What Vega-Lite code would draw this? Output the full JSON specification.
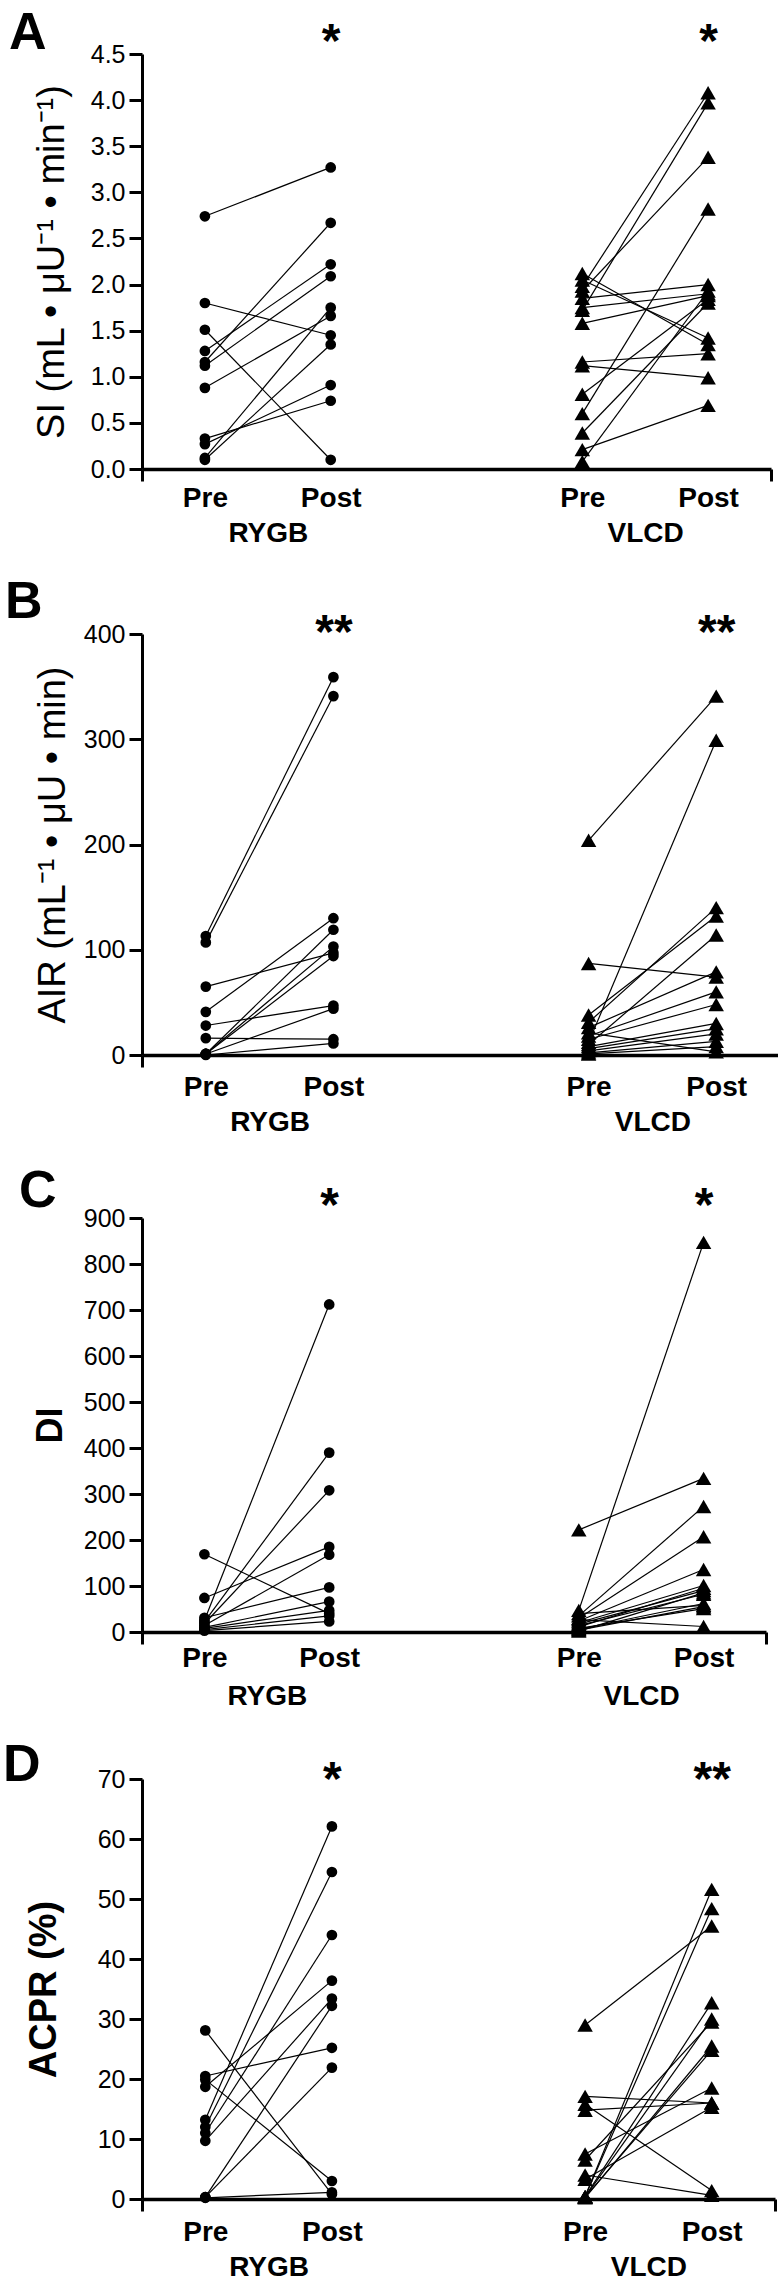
{
 "$schema": "https://vega.github.io/schema/vega-lite/v6.json",
 "background": "white",
 "padding": {"left": 3, "top": 7, "right": 0, "bottom": 0},
 "config": {
  "font": "Liberation Sans",
  "view": {"stroke": null},
  "axis": {"grid": false, "domainColor": "black", "tickColor": "black", "labelColor": "black", "titleColor": "black", "labelFont": "Liberation Sans", "titleFont": "Liberation Sans"},
  "axisY": {"domainWidth": 3, "tickWidth": 3, "tickSize": 13, "labelFontSize": 25, "labelPadding": 4, "titleFontSize": 38, "labelOverlap": false, "labelFlush": false},
  "title": {"font": "Liberation Sans", "fontSize": 52, "fontWeight": "bold", "color": "black", "anchor": "start", "frame": "group"}
 },
 "datasets": {
  "d": [
   {"p":"A","id":1,"g":"RYGB","cond":"RYGB Pre","v":2.74},{"p":"A","id":1,"g":"RYGB","cond":"RYGB Post","v":3.27},
   {"p":"A","id":2,"g":"RYGB","cond":"RYGB Pre","v":1.80},{"p":"A","id":2,"g":"RYGB","cond":"RYGB Post","v":1.45},
   {"p":"A","id":3,"g":"RYGB","cond":"RYGB Pre","v":1.51},{"p":"A","id":3,"g":"RYGB","cond":"RYGB Post","v":0.10},
   {"p":"A","id":4,"g":"RYGB","cond":"RYGB Pre","v":0.88},{"p":"A","id":4,"g":"RYGB","cond":"RYGB Post","v":1.66},
   {"p":"A","id":5,"g":"RYGB","cond":"RYGB Pre","v":1.28},{"p":"A","id":5,"g":"RYGB","cond":"RYGB Post","v":2.22},
   {"p":"A","id":6,"g":"RYGB","cond":"RYGB Pre","v":1.16},{"p":"A","id":6,"g":"RYGB","cond":"RYGB Post","v":2.67},
   {"p":"A","id":7,"g":"RYGB","cond":"RYGB Pre","v":1.12},{"p":"A","id":7,"g":"RYGB","cond":"RYGB Post","v":2.09},
   {"p":"A","id":8,"g":"RYGB","cond":"RYGB Pre","v":0.33},{"p":"A","id":8,"g":"RYGB","cond":"RYGB Post","v":0.74},
   {"p":"A","id":9,"g":"RYGB","cond":"RYGB Pre","v":0.27},{"p":"A","id":9,"g":"RYGB","cond":"RYGB Post","v":0.91},
   {"p":"A","id":10,"g":"RYGB","cond":"RYGB Pre","v":0.12},{"p":"A","id":10,"g":"RYGB","cond":"RYGB Post","v":1.75},
   {"p":"A","id":11,"g":"RYGB","cond":"RYGB Pre","v":0.10},{"p":"A","id":11,"g":"RYGB","cond":"RYGB Post","v":1.35},
   {"p":"A","id":12,"g":"VLCD","cond":"VLCD Pre","v":2.12},{"p":"A","id":12,"g":"VLCD","cond":"VLCD Post","v":1.35},
   {"p":"A","id":13,"g":"VLCD","cond":"VLCD Pre","v":2.05},{"p":"A","id":13,"g":"VLCD","cond":"VLCD Post","v":1.42},
   {"p":"A","id":14,"g":"VLCD","cond":"VLCD Pre","v":1.98},{"p":"A","id":14,"g":"VLCD","cond":"VLCD Post","v":4.08},
   {"p":"A","id":15,"g":"VLCD","cond":"VLCD Pre","v":1.93},{"p":"A","id":15,"g":"VLCD","cond":"VLCD Post","v":3.38},
   {"p":"A","id":16,"g":"VLCD","cond":"VLCD Pre","v":1.85},{"p":"A","id":16,"g":"VLCD","cond":"VLCD Post","v":2.00},
   {"p":"A","id":17,"g":"VLCD","cond":"VLCD Pre","v":1.75},{"p":"A","id":17,"g":"VLCD","cond":"VLCD Post","v":1.90},
   {"p":"A","id":18,"g":"VLCD","cond":"VLCD Pre","v":1.72},{"p":"A","id":18,"g":"VLCD","cond":"VLCD Post","v":3.97},
   {"p":"A","id":19,"g":"VLCD","cond":"VLCD Pre","v":1.58},{"p":"A","id":19,"g":"VLCD","cond":"VLCD Post","v":1.88},
   {"p":"A","id":20,"g":"VLCD","cond":"VLCD Pre","v":1.16},{"p":"A","id":20,"g":"VLCD","cond":"VLCD Post","v":1.25},
   {"p":"A","id":21,"g":"VLCD","cond":"VLCD Pre","v":1.12},{"p":"A","id":21,"g":"VLCD","cond":"VLCD Post","v":0.99},
   {"p":"A","id":22,"g":"VLCD","cond":"VLCD Pre","v":0.81},{"p":"A","id":22,"g":"VLCD","cond":"VLCD Post","v":1.84},
   {"p":"A","id":23,"g":"VLCD","cond":"VLCD Pre","v":0.60},{"p":"A","id":23,"g":"VLCD","cond":"VLCD Post","v":2.82},
   {"p":"A","id":24,"g":"VLCD","cond":"VLCD Pre","v":0.39},{"p":"A","id":24,"g":"VLCD","cond":"VLCD Post","v":1.80},
   {"p":"A","id":25,"g":"VLCD","cond":"VLCD Pre","v":0.21},{"p":"A","id":25,"g":"VLCD","cond":"VLCD Post","v":0.69},
   {"p":"A","id":26,"g":"VLCD","cond":"VLCD Pre","v":0.08},{"p":"A","id":26,"g":"VLCD","cond":"VLCD Post","v":1.93},

   {"p":"B","id":1,"g":"RYGB","cond":"RYGB Pre","v":113},{"p":"B","id":1,"g":"RYGB","cond":"RYGB Post","v":359},
   {"p":"B","id":2,"g":"RYGB","cond":"RYGB Pre","v":107},{"p":"B","id":2,"g":"RYGB","cond":"RYGB Post","v":341},
   {"p":"B","id":3,"g":"RYGB","cond":"RYGB Pre","v":65},{"p":"B","id":3,"g":"RYGB","cond":"RYGB Post","v":97},
   {"p":"B","id":4,"g":"RYGB","cond":"RYGB Pre","v":41},{"p":"B","id":4,"g":"RYGB","cond":"RYGB Post","v":130},
   {"p":"B","id":5,"g":"RYGB","cond":"RYGB Pre","v":28},{"p":"B","id":5,"g":"RYGB","cond":"RYGB Post","v":47},
   {"p":"B","id":6,"g":"RYGB","cond":"RYGB Pre","v":16},{"p":"B","id":6,"g":"RYGB","cond":"RYGB Post","v":15},
   {"p":"B","id":7,"g":"RYGB","cond":"RYGB Pre","v":1},{"p":"B","id":7,"g":"RYGB","cond":"RYGB Post","v":119},
   {"p":"B","id":8,"g":"RYGB","cond":"RYGB Pre","v":1},{"p":"B","id":8,"g":"RYGB","cond":"RYGB Post","v":103},
   {"p":"B","id":9,"g":"RYGB","cond":"RYGB Pre","v":1},{"p":"B","id":9,"g":"RYGB","cond":"RYGB Post","v":94},
   {"p":"B","id":10,"g":"RYGB","cond":"RYGB Pre","v":1},{"p":"B","id":10,"g":"RYGB","cond":"RYGB Post","v":44},
   {"p":"B","id":11,"g":"RYGB","cond":"RYGB Pre","v":0},{"p":"B","id":11,"g":"RYGB","cond":"RYGB Post","v":11},
   {"p":"B","id":12,"g":"VLCD","cond":"VLCD Pre","v":204},{"p":"B","id":12,"g":"VLCD","cond":"VLCD Post","v":341},
   {"p":"B","id":13,"g":"VLCD","cond":"VLCD Pre","v":87},{"p":"B","id":13,"g":"VLCD","cond":"VLCD Post","v":74},
   {"p":"B","id":14,"g":"VLCD","cond":"VLCD Pre","v":38},{"p":"B","id":14,"g":"VLCD","cond":"VLCD Post","v":132},
   {"p":"B","id":15,"g":"VLCD","cond":"VLCD Pre","v":31},{"p":"B","id":15,"g":"VLCD","cond":"VLCD Post","v":140},
   {"p":"B","id":16,"g":"VLCD","cond":"VLCD Pre","v":26},{"p":"B","id":16,"g":"VLCD","cond":"VLCD Post","v":79},
   {"p":"B","id":17,"g":"VLCD","cond":"VLCD Pre","v":21},{"p":"B","id":17,"g":"VLCD","cond":"VLCD Post","v":3},
   {"p":"B","id":18,"g":"VLCD","cond":"VLCD Pre","v":18},{"p":"B","id":18,"g":"VLCD","cond":"VLCD Post","v":60},
   {"p":"B","id":19,"g":"VLCD","cond":"VLCD Pre","v":15},{"p":"B","id":19,"g":"VLCD","cond":"VLCD Post","v":48},
   {"p":"B","id":20,"g":"VLCD","cond":"VLCD Pre","v":12},{"p":"B","id":20,"g":"VLCD","cond":"VLCD Post","v":299},
   {"p":"B","id":21,"g":"VLCD","cond":"VLCD Pre","v":10},{"p":"B","id":21,"g":"VLCD","cond":"VLCD Post","v":114},
   {"p":"B","id":22,"g":"VLCD","cond":"VLCD Pre","v":8},{"p":"B","id":22,"g":"VLCD","cond":"VLCD Post","v":30},
   {"p":"B","id":23,"g":"VLCD","cond":"VLCD Pre","v":6},{"p":"B","id":23,"g":"VLCD","cond":"VLCD Post","v":25},
   {"p":"B","id":24,"g":"VLCD","cond":"VLCD Pre","v":4},{"p":"B","id":24,"g":"VLCD","cond":"VLCD Post","v":20},
   {"p":"B","id":25,"g":"VLCD","cond":"VLCD Pre","v":2},{"p":"B","id":25,"g":"VLCD","cond":"VLCD Post","v":13},
   {"p":"B","id":26,"g":"VLCD","cond":"VLCD Pre","v":1},{"p":"B","id":26,"g":"VLCD","cond":"VLCD Post","v":8},

   {"p":"C","id":1,"g":"RYGB","cond":"RYGB Pre","v":169},{"p":"C","id":1,"g":"RYGB","cond":"RYGB Post","v":40},
   {"p":"C","id":2,"g":"RYGB","cond":"RYGB Pre","v":74},{"p":"C","id":2,"g":"RYGB","cond":"RYGB Post","v":185},
   {"p":"C","id":3,"g":"RYGB","cond":"RYGB Pre","v":31},{"p":"C","id":3,"g":"RYGB","cond":"RYGB Post","v":97},
   {"p":"C","id":4,"g":"RYGB","cond":"RYGB Pre","v":25},{"p":"C","id":4,"g":"RYGB","cond":"RYGB Post","v":712},
   {"p":"C","id":5,"g":"RYGB","cond":"RYGB Pre","v":22},{"p":"C","id":5,"g":"RYGB","cond":"RYGB Post","v":390},
   {"p":"C","id":6,"g":"RYGB","cond":"RYGB Pre","v":18},{"p":"C","id":6,"g":"RYGB","cond":"RYGB Post","v":308},
   {"p":"C","id":7,"g":"RYGB","cond":"RYGB Pre","v":14},{"p":"C","id":7,"g":"RYGB","cond":"RYGB Post","v":168},
   {"p":"C","id":8,"g":"RYGB","cond":"RYGB Pre","v":10},{"p":"C","id":8,"g":"RYGB","cond":"RYGB Post","v":66},
   {"p":"C","id":9,"g":"RYGB","cond":"RYGB Pre","v":8},{"p":"C","id":9,"g":"RYGB","cond":"RYGB Post","v":47},
   {"p":"C","id":10,"g":"RYGB","cond":"RYGB Pre","v":5},{"p":"C","id":10,"g":"RYGB","cond":"RYGB Post","v":35},
   {"p":"C","id":11,"g":"RYGB","cond":"RYGB Pre","v":3},{"p":"C","id":11,"g":"RYGB","cond":"RYGB Post","v":23},
   {"p":"C","id":12,"g":"VLCD","cond":"VLCD Pre","v":222},{"p":"C","id":12,"g":"VLCD","cond":"VLCD Post","v":334},
   {"p":"C","id":13,"g":"VLCD","cond":"VLCD Pre","v":47},{"p":"C","id":13,"g":"VLCD","cond":"VLCD Post","v":847},
   {"p":"C","id":14,"g":"VLCD","cond":"VLCD Pre","v":40},{"p":"C","id":14,"g":"VLCD","cond":"VLCD Post","v":58},
   {"p":"C","id":15,"g":"VLCD","cond":"VLCD Pre","v":35},{"p":"C","id":15,"g":"VLCD","cond":"VLCD Post","v":273},
   {"p":"C","id":16,"g":"VLCD","cond":"VLCD Pre","v":30},{"p":"C","id":16,"g":"VLCD","cond":"VLCD Post","v":207},
   {"p":"C","id":17,"g":"VLCD","cond":"VLCD Pre","v":27},{"p":"C","id":17,"g":"VLCD","cond":"VLCD Post","v":12},
   {"p":"C","id":18,"g":"VLCD","cond":"VLCD Pre","v":24},{"p":"C","id":18,"g":"VLCD","cond":"VLCD Post","v":136},
   {"p":"C","id":19,"g":"VLCD","cond":"VLCD Pre","v":20},{"p":"C","id":19,"g":"VLCD","cond":"VLCD Post","v":101},
   {"p":"C","id":20,"g":"VLCD","cond":"VLCD Pre","v":17},{"p":"C","id":20,"g":"VLCD","cond":"VLCD Post","v":90},
   {"p":"C","id":21,"g":"VLCD","cond":"VLCD Pre","v":14},{"p":"C","id":21,"g":"VLCD","cond":"VLCD Post","v":82},
   {"p":"C","id":22,"g":"VLCD","cond":"VLCD Pre","v":11},{"p":"C","id":22,"g":"VLCD","cond":"VLCD Post","v":95},
   {"p":"C","id":23,"g":"VLCD","cond":"VLCD Pre","v":8},{"p":"C","id":23,"g":"VLCD","cond":"VLCD Post","v":51},
   {"p":"C","id":24,"g":"VLCD","cond":"VLCD Pre","v":6},{"p":"C","id":24,"g":"VLCD","cond":"VLCD Post","v":62},
   {"p":"C","id":25,"g":"VLCD","cond":"VLCD Pre","v":4},{"p":"C","id":25,"g":"VLCD","cond":"VLCD Post","v":55},
   {"p":"C","id":26,"g":"VLCD","cond":"VLCD Pre","v":2},{"p":"C","id":26,"g":"VLCD","cond":"VLCD Post","v":85},

   {"p":"D","id":1,"g":"RYGB","cond":"RYGB Pre","v":28.1},{"p":"D","id":1,"g":"RYGB","cond":"RYGB Post","v":0.8},
   {"p":"D","id":2,"g":"RYGB","cond":"RYGB Pre","v":20.5},{"p":"D","id":2,"g":"RYGB","cond":"RYGB Post","v":25.2},
   {"p":"D","id":3,"g":"RYGB","cond":"RYGB Pre","v":19.9},{"p":"D","id":3,"g":"RYGB","cond":"RYGB Post","v":3.0},
   {"p":"D","id":4,"g":"RYGB","cond":"RYGB Pre","v":18.7},{"p":"D","id":4,"g":"RYGB","cond":"RYGB Post","v":36.4},
   {"p":"D","id":5,"g":"RYGB","cond":"RYGB Pre","v":13.2},{"p":"D","id":5,"g":"RYGB","cond":"RYGB Post","v":62.1},
   {"p":"D","id":6,"g":"RYGB","cond":"RYGB Pre","v":12.0},{"p":"D","id":6,"g":"RYGB","cond":"RYGB Post","v":54.5},
   {"p":"D","id":7,"g":"RYGB","cond":"RYGB Pre","v":11.0},{"p":"D","id":7,"g":"RYGB","cond":"RYGB Post","v":44.0},
   {"p":"D","id":8,"g":"RYGB","cond":"RYGB Pre","v":9.7},{"p":"D","id":8,"g":"RYGB","cond":"RYGB Post","v":33.4},
   {"p":"D","id":9,"g":"RYGB","cond":"RYGB Pre","v":0.3},{"p":"D","id":9,"g":"RYGB","cond":"RYGB Post","v":32.2},
   {"p":"D","id":10,"g":"RYGB","cond":"RYGB Pre","v":0.3},{"p":"D","id":10,"g":"RYGB","cond":"RYGB Post","v":21.9},
   {"p":"D","id":11,"g":"RYGB","cond":"RYGB Pre","v":0.2},{"p":"D","id":11,"g":"RYGB","cond":"RYGB Post","v":1.1},
   {"p":"D","id":12,"g":"VLCD","cond":"VLCD Pre","v":29.0},{"p":"D","id":12,"g":"VLCD","cond":"VLCD Post","v":45.5},
   {"p":"D","id":13,"g":"VLCD","cond":"VLCD Pre","v":17.1},{"p":"D","id":13,"g":"VLCD","cond":"VLCD Post","v":16.0},
   {"p":"D","id":14,"g":"VLCD","cond":"VLCD Pre","v":15.8},{"p":"D","id":14,"g":"VLCD","cond":"VLCD Post","v":1.4},
   {"p":"D","id":15,"g":"VLCD","cond":"VLCD Pre","v":14.8},{"p":"D","id":15,"g":"VLCD","cond":"VLCD Post","v":16.0},
   {"p":"D","id":16,"g":"VLCD","cond":"VLCD Pre","v":7.5},{"p":"D","id":16,"g":"VLCD","cond":"VLCD Post","v":18.5},
   {"p":"D","id":17,"g":"VLCD","cond":"VLCD Pre","v":6.5},{"p":"D","id":17,"g":"VLCD","cond":"VLCD Post","v":29.5},
   {"p":"D","id":18,"g":"VLCD","cond":"VLCD Pre","v":4.0},{"p":"D","id":18,"g":"VLCD","cond":"VLCD Post","v":0.6},
   {"p":"D","id":19,"g":"VLCD","cond":"VLCD Pre","v":3.3},{"p":"D","id":19,"g":"VLCD","cond":"VLCD Post","v":15.3},
   {"p":"D","id":20,"g":"VLCD","cond":"VLCD Pre","v":0.4},{"p":"D","id":20,"g":"VLCD","cond":"VLCD Post","v":51.6},
   {"p":"D","id":21,"g":"VLCD","cond":"VLCD Pre","v":0.4},{"p":"D","id":21,"g":"VLCD","cond":"VLCD Post","v":48.4},
   {"p":"D","id":22,"g":"VLCD","cond":"VLCD Pre","v":0.4},{"p":"D","id":22,"g":"VLCD","cond":"VLCD Post","v":32.7},
   {"p":"D","id":23,"g":"VLCD","cond":"VLCD Pre","v":0.3},{"p":"D","id":23,"g":"VLCD","cond":"VLCD Post","v":30.0},
   {"p":"D","id":24,"g":"VLCD","cond":"VLCD Pre","v":0.3},{"p":"D","id":24,"g":"VLCD","cond":"VLCD Post","v":24.8},
   {"p":"D","id":25,"g":"VLCD","cond":"VLCD Pre","v":0.2},{"p":"D","id":25,"g":"VLCD","cond":"VLCD Post","v":25.5}
  ]
 },
 "columns": 1,
 "align": "none",
 "spacing": 29,
 "concat": [
  {
   "width": 629, "height": 415,
   "title": {"text": "A", "dx": -133, "offset": -42},
   "data": {"name": "d"},
   "transform": [{"filter": "datum.p == 'A'"}],
   "encoding": {
    "y": {"field": "v", "type": "quantitative", "scale": {"domain": [0, 4.5], "nice": false, "zero": true},
          "axis": {"values": [0, 0.5, 1, 1.5, 2, 2.5, 3, 3.5, 4, 4.5], "format": ".1f", "title": "SI (mL • μU⁻¹ • min⁻¹)", "titleFontWeight": "normal", "titlePadding": 19}}
   },
   "layer": [
    {"mark": {"type": "line", "color": "black", "strokeWidth": 1.2},
     "encoding": {
      "x": {"field": "cond", "type": "ordinal", "scale": {"type": "point", "padding": 0, "domain": ["L", "RYGB Pre", "RYGB", "RYGB Post", "g1", "g2", "g3", "VLCD Pre", "VLCD", "VLCD Post", "R"]},
            "axis": {"orient": "bottom", "values": ["L", "RYGB Pre", "RYGB", "RYGB Post", "VLCD Pre", "VLCD", "VLCD Post", "R"], "labelExpr": "datum.value == 'L' || datum.value == 'R' ? '' : datum.value == 'RYGB' || datum.value == 'VLCD' ? ['', datum.value] : split(datum.value, ' ')[1]", "title": null, "ticks": true, "tickSize": 12, "tickWidth": 3, "tickOpacity": {"condition": {"test": "datum.value == 'L' || datum.value == 'R'", "value": 1}, "value": 0}, "domainWidth": 3.5, "labelFontSize": 28, "labelFontWeight": "bold", "labelPadding": 3, "labelBaseline": "top", "labelLineHeight": 35, "labelAngle": 0}},
      "detail": {"field": "id"}}},
    {"transform": [{"filter": "datum.g == 'RYGB'"}],
     "mark": {"type": "point", "shape": "circle", "filled": true, "color": "black", "opacity": 1, "size": 115},
     "encoding": {
      "x": {"field": "cond", "type": "ordinal",
            "axis": {"orient": "top", "values": ["RYGB Post", "VLCD Post"], "labelExpr": "'*'", "title": null, "ticks": false, "tickSize": 0, "domain": false, "labelFontSize": 48, "labelFontWeight": "bold", "labelBaseline": "alphabetic", "labelPadding": -2, "labelAngle": 0}}}},
    {"transform": [{"filter": "datum.g == 'VLCD'"}],
     "mark": {"type": "point", "shape": "triangle-up", "filled": true, "color": "black", "opacity": 1, "size": 240},
     "encoding": {"x": {"field": "cond", "type": "ordinal", "axis": null}}}
   ],
   "resolve": {"axis": {"x": "independent"}}
  },
  {
   "width": 638, "height": 421,
   "title": {"text": "B", "dx": -137, "offset": -20},
   "data": {"name": "d"},
   "transform": [{"filter": "datum.p == 'B'"}],
   "encoding": {
    "y": {"field": "v", "type": "quantitative", "scale": {"domain": [0, 400], "nice": false, "zero": true},
          "axis": {"values": [0, 100, 200, 300, 400], "title": "AIR (mL⁻¹ • μU • min)", "titleFontWeight": "normal", "titlePadding": 11}}
   },
   "layer": [
    {"mark": {"type": "line", "color": "black", "strokeWidth": 1.2},
     "encoding": {
      "x": {"field": "cond", "type": "ordinal", "scale": {"type": "point", "padding": 0, "domain": ["L", "RYGB Pre", "RYGB", "RYGB Post", "g1", "g2", "g3", "VLCD Pre", "VLCD", "VLCD Post", "R"]},
            "axis": {"orient": "bottom", "values": ["L", "RYGB Pre", "RYGB", "RYGB Post", "VLCD Pre", "VLCD", "VLCD Post", "R"], "labelExpr": "datum.value == 'L' || datum.value == 'R' ? '' : datum.value == 'RYGB' || datum.value == 'VLCD' ? ['', datum.value] : split(datum.value, ' ')[1]", "title": null, "ticks": true, "tickSize": 12, "tickWidth": 3, "tickOpacity": {"condition": {"test": "datum.value == 'L' || datum.value == 'R'", "value": 1}, "value": 0}, "domainWidth": 3.5, "labelFontSize": 28, "labelFontWeight": "bold", "labelPadding": 6, "labelBaseline": "top", "labelLineHeight": 35, "labelAngle": 0}},
      "detail": {"field": "id"}}},
    {"transform": [{"filter": "datum.g == 'RYGB'"}],
     "mark": {"type": "point", "shape": "circle", "filled": true, "color": "black", "opacity": 1, "size": 115},
     "encoding": {
      "x": {"field": "cond", "type": "ordinal",
            "axis": {"orient": "top", "values": ["RYGB Post", "VLCD Post"], "labelExpr": "'**'", "title": null, "ticks": false, "tickSize": 0, "domain": false, "labelFontSize": 48, "labelFontWeight": "bold", "labelBaseline": "alphabetic", "labelPadding": -13, "labelAngle": 0}}}},
    {"transform": [{"filter": "datum.g == 'VLCD'"}],
     "mark": {"type": "point", "shape": "triangle-up", "filled": true, "color": "black", "opacity": 1, "size": 240},
     "encoding": {"x": {"field": "cond", "type": "ordinal", "axis": null}}}
   ],
   "resolve": {"axis": {"x": "independent"}}
  },
  {
   "width": 624, "height": 414,
   "title": {"text": "C", "dx": -123, "offset": -36},
   "data": {"name": "d"},
   "transform": [{"filter": "datum.p == 'C'"}],
   "encoding": {
    "y": {"field": "v", "type": "quantitative", "scale": {"domain": [0, 900], "nice": false, "zero": true},
          "axis": {"values": [0, 100, 200, 300, 400, 500, 600, 700, 800, 900], "title": "DI", "titleFontWeight": "bold", "titleFontSize": 36, "titlePadding": 14}}
   },
   "layer": [
    {"mark": {"type": "line", "color": "black", "strokeWidth": 1.2},
     "encoding": {
      "x": {"field": "cond", "type": "ordinal", "scale": {"type": "point", "padding": 0, "domain": ["L", "RYGB Pre", "RYGB", "RYGB Post", "g1", "g2", "g3", "VLCD Pre", "VLCD", "VLCD Post", "R"]},
            "axis": {"orient": "bottom", "values": ["L", "RYGB Pre", "RYGB", "RYGB Post", "VLCD Pre", "VLCD", "VLCD Post", "R"], "labelExpr": "datum.value == 'L' || datum.value == 'R' ? '' : datum.value == 'RYGB' || datum.value == 'VLCD' ? ['', datum.value] : split(datum.value, ' ')[1]", "title": null, "ticks": true, "tickSize": 12, "tickWidth": 3, "tickOpacity": {"condition": {"test": "datum.value == 'L' || datum.value == 'R'", "value": 1}, "value": 0}, "domainWidth": 3.5, "labelFontSize": 28, "labelFontWeight": "bold", "labelPadding": 0, "labelBaseline": "top", "labelLineHeight": 38, "labelAngle": 0}},
      "detail": {"field": "id"}}},
    {"transform": [{"filter": "datum.g == 'RYGB'"}],
     "mark": {"type": "point", "shape": "circle", "filled": true, "color": "black", "opacity": 1, "size": 115},
     "encoding": {
      "x": {"field": "cond", "type": "ordinal",
            "axis": {"orient": "top", "values": ["RYGB Post", "VLCD Post"], "labelExpr": "'*'", "title": null, "ticks": false, "tickSize": 0, "domain": false, "labelFontSize": 48, "labelFontWeight": "bold", "labelBaseline": "alphabetic", "labelPadding": -2, "labelAngle": 0}}}},
    {"transform": [{"filter": "datum.g == 'VLCD'"}],
     "mark": {"type": "point", "shape": "triangle-up", "filled": true, "color": "black", "opacity": 1, "size": 240},
     "encoding": {"x": {"field": "cond", "type": "ordinal", "axis": null}}}
   ],
   "resolve": {"axis": {"x": "independent"}}
  },
  {
   "width": 633, "height": 420,
   "title": {"text": "D", "dx": -139, "offset": -36},
   "data": {"name": "d"},
   "transform": [{"filter": "datum.p == 'D'"}],
   "encoding": {
    "y": {"field": "v", "type": "quantitative", "scale": {"domain": [0, 70], "nice": false, "zero": true},
          "axis": {"values": [0, 10, 20, 30, 40, 50, 60, 70], "title": "ACPR (%)", "titleFontWeight": "bold", "titlePadding": 34}}
   },
   "layer": [
    {"mark": {"type": "line", "color": "black", "strokeWidth": 1.2},
     "encoding": {
      "x": {"field": "cond", "type": "ordinal", "scale": {"type": "point", "padding": 0, "domain": ["L", "RYGB Pre", "RYGB", "RYGB Post", "g1", "g2", "g3", "VLCD Pre", "VLCD", "VLCD Post", "R"]},
            "axis": {"orient": "bottom", "values": ["L", "RYGB Pre", "RYGB", "RYGB Post", "VLCD Pre", "VLCD", "VLCD Post", "R"], "labelExpr": "datum.value == 'L' || datum.value == 'R' ? '' : datum.value == 'RYGB' || datum.value == 'VLCD' ? ['', datum.value] : split(datum.value, ' ')[1]", "title": null, "ticks": true, "tickSize": 12, "tickWidth": 3, "tickOpacity": {"condition": {"test": "datum.value == 'L' || datum.value == 'R'", "value": 1}, "value": 0}, "domainWidth": 3.5, "labelFontSize": 28, "labelFontWeight": "bold", "labelPadding": 7, "labelBaseline": "top", "labelLineHeight": 35, "labelAngle": 0}},
      "detail": {"field": "id"}}},
    {"transform": [{"filter": "datum.g == 'RYGB'"}],
     "mark": {"type": "point", "shape": "circle", "filled": true, "color": "black", "opacity": 1, "size": 115},
     "encoding": {
      "x": {"field": "cond", "type": "ordinal",
            "axis": {"orient": "top", "values": ["RYGB Post", "VLCD Post"], "labelExpr": "datum.value == 'RYGB Post' ? '*' : '**'", "title": null, "ticks": false, "tickSize": 0, "domain": false, "labelFontSize": 48, "labelFontWeight": "bold", "labelBaseline": "alphabetic", "labelPadding": -15, "labelAngle": 0}}}},
    {"transform": [{"filter": "datum.g == 'VLCD'"}],
     "mark": {"type": "point", "shape": "triangle-up", "filled": true, "color": "black", "opacity": 1, "size": 240},
     "encoding": {"x": {"field": "cond", "type": "ordinal", "axis": null}}}
   ],
   "resolve": {"axis": {"x": "independent"}}
  }
 ]
}
